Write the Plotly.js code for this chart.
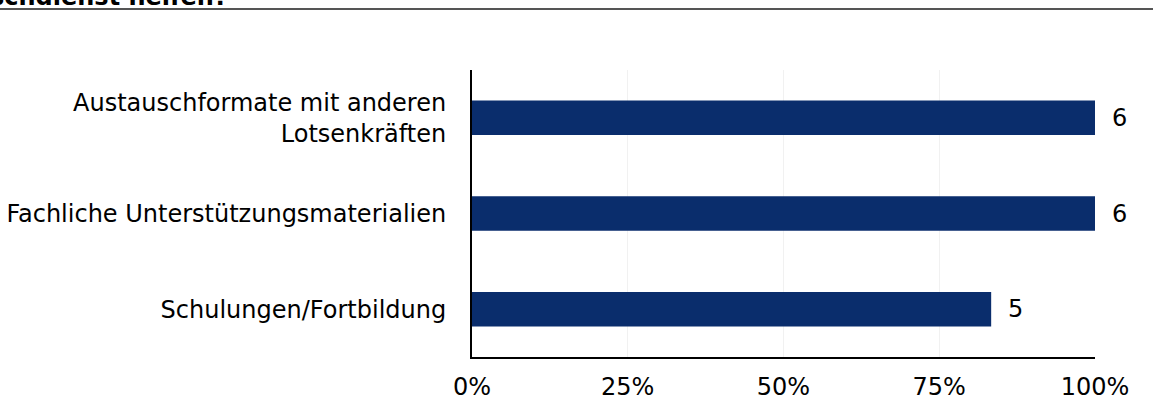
<!DOCTYPE html>
<html>
<head>
<meta charset="utf-8">
<script src="https://cdn.plot.ly/plotly-3.0.1.min.js"></script>
<style>html,body{margin:0;padding:0;background:#fff;overflow:hidden}#chart{width:1154px;height:401px}</style>
</head>
<body>
<div id="chart"></div>
<script>
const categories = ["Schulungen/Fortbildung", "Fachliche Unterstützungsmaterialien", "Austauschformate mit anderen<br>Lotsenkräften"];
const counts = [5, 6, 6];
const total = 6;
const percentages = counts.map(c => c / total * 100);
const tickValues = [0, 25, 50, 75, 100];
const tickLabels = ["0%", "25%", "50%", "75%", "100%"];
const titleText = "schdienst helfen?";

const W = 1154, H = 401;
const m = {l: 472, r: 59, t: 70, b: 44};
const pw = W - m.l - m.r, ph = H - m.t - m.b;
const px = x => (x - m.l) / pw;
const py = y => (H - m.b - y) / ph;

const font = "DejaVu Sans, Verdana, sans-serif";
const fs = 24;

const trace = {
  type: "bar",
  orientation: "h",
  y: categories,
  x: percentages,
  width: 0.36,
  marker: {color: "#0a2d6c"},
  hoverinfo: "skip"
};

const annotations = categories.map((c, i) => ({
  x: percentages[i], y: c, xref: "x", yref: "y",
  text: String(counts[i]), showarrow: false,
  xanchor: "left", xshift: 15,
  font: {family: font, size: fs, color: "#000"}
}));
annotations.push({
  x: px(230), y: py(-3), xref: "paper", yref: "paper",
  xanchor: "right", yanchor: "middle", showarrow: false,
  text: "<b>" + titleText + "</b>",
  font: {family: font, size: fs, color: "#000"}
});

const layout = {
  width: W, height: H,
  margin: m,
  paper_bgcolor: "#fff", plot_bgcolor: "#fff",
  showlegend: false,
  font: {family: font, size: fs, color: "#000"},
  xaxis: {
    range: [0, 100], tickvals: tickValues, ticktext: tickLabels,
    showgrid: true, gridcolor: "#f1f1f1", gridwidth: 1,
    zeroline: false, showline: true, linecolor: "#000", linewidth: 2,
    ticks: "outside", ticklen: 7, tickcolor: "rgba(0,0,0,0)",
    tickfont: {family: font, size: fs, color: "#000"},
    fixedrange: true
  },
  yaxis: {
    type: "category", range: [-0.5, 2.5],
    showgrid: false, zeroline: false,
    showline: true, linecolor: "#000", linewidth: 2,
    ticks: "outside", ticklen: 19, tickcolor: "rgba(0,0,0,0)",
    tickfont: {family: font, size: fs, color: "#000"},
    fixedrange: true
  },
  shapes: [{
    type: "line", xref: "paper", yref: "paper",
    x0: px(0), x1: px(1153), y0: py(9), y1: py(9),
    line: {color: "#555", width: 2}
  }],
  annotations: annotations
};

Plotly.newPlot("chart", [trace], layout, {displayModeBar: false, staticPlot: true});
</script>
</body>
</html>
